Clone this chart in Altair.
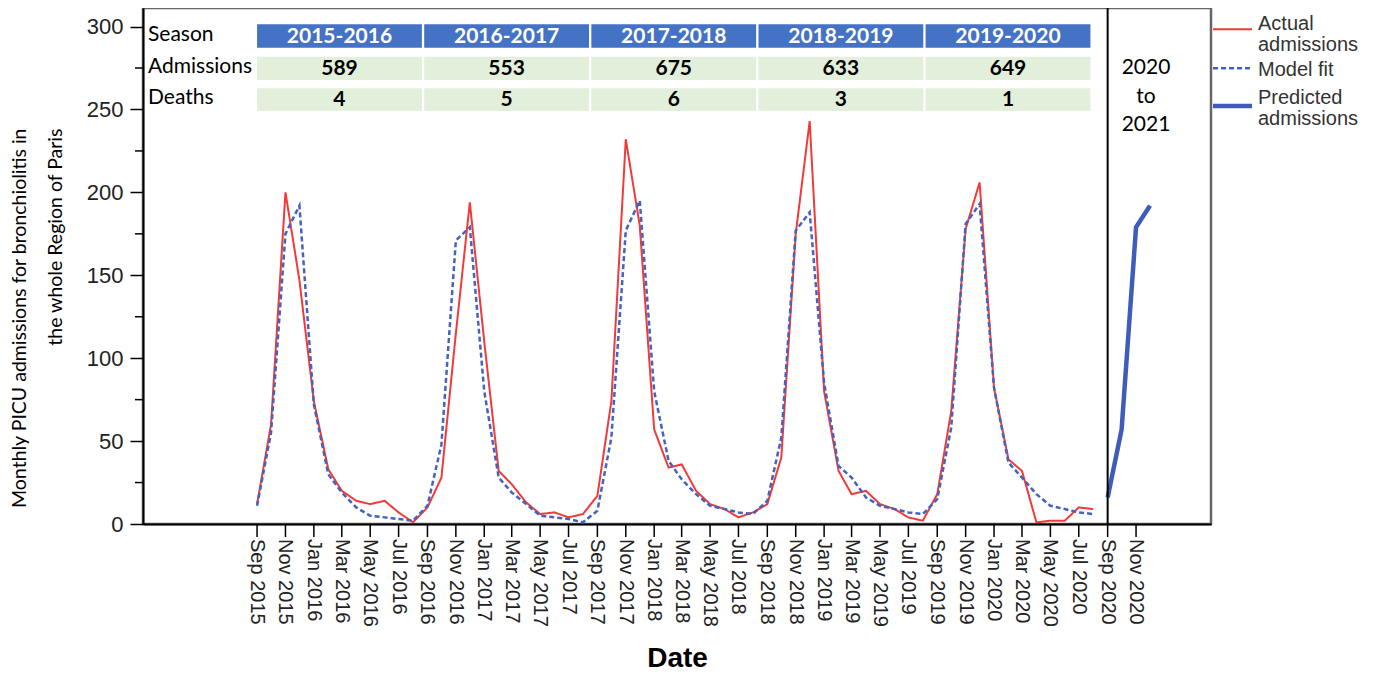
import altair as alt
import pandas as pd

# ---------------- data ----------------
months = [d.strftime("%Y-%m-%d") for d in pd.date_range("2015-09-01", periods=60, freq="MS")]
actual = [12, 60, 200, 147, 74, 33, 20, 14, 12, 14, 7, 1,
          10, 28, 115, 194, 110, 32, 24, 13, 6, 7, 4, 6,
          17, 74, 232, 180, 57, 34, 36, 20, 12, 9, 4, 7,
          12, 40, 175, 243, 80, 32, 18, 20, 12, 9, 4, 2,
          18, 68, 178, 206, 82, 39, 32, 1, 2, 2, 10, 9]
model_fit = [11, 55, 175, 192, 72, 30, 19, 10, 5, 4, 3, 2,
             11, 48, 171, 179, 80, 28, 19, 12, 5, 4, 3, 1,
             8, 52, 177, 195, 80, 38, 27, 18, 11, 9, 7, 6,
             14, 52, 177, 188, 85, 35, 28, 16, 11, 9, 7, 6,
             15, 58, 181, 193, 82, 37, 28, 18, 11, 9, 7, 6]
pred_months = ["2020-09-01", "2020-10-01", "2020-11-01", "2020-12-01"]
predicted = [16, 57, 179, 192]

seasons = ["2015-2016", "2016-2017", "2017-2018", "2018-2019", "2019-2020"]
season_admissions = [589, 553, 675, 633, 649]
season_deaths = [4, 5, 6, 3, 1]
row_labels = ["Season", "Admissions", "Deaths"]
side_note = ["2020", "to", "2021"]
divider_date = ["2020-09-01"]

tick_months = ["Sep 2015", "Nov 2015", "Jan 2016", "Mar 2016", "May 2016", "Jul 2016",
               "Sep 2016", "Nov 2016", "Jan 2017", "Mar 2017", "May 2017", "Jul 2017",
               "Sep 2017", "Nov 2017", "Jan 2018", "Mar 2018", "May 2018", "Jul 2018",
               "Sep 2018", "Nov 2018", "Jan 2019", "Mar 2019", "May 2019", "Jul 2019",
               "Sep 2019", "Nov 2019", "Jan 2020", "Mar 2020", "May 2020", "Jul 2020",
               "Sep 2020", "Nov 2020"]
y_major = [0, 50, 100, 150, 200, 250, 300]
y_minor = [25, 75, 125, 175, 225, 275]

SER = ["Actual admissions", "Model fit", "Predicted admissions"]
SER_LINES = [["Actual", "admissions"], ["Model fit"], ["Predicted", "admissions"]]
COLORS = ["#F23A3A", "#4462BE", "#3F5CBA"]
DASHES = [[1, 0], [5, 3], [1, 0]]
WIDTHS = [2, 2.5, 4.5]


def ms(s):
    return int(pd.Timestamp(s, tz="UTC").value // 1_000_000)


# ---------------- layout ----------------
W, H = 1068, 516
xscale = alt.Scale(type="utc", domain=[ms("2014-12-30"), ms("2021-04-11")])
yscale = alt.Scale(domain=[0, 311.2], nice=False, zero=True)

rows = []
for m, a, f in zip(months, actual, model_fit):
    rows.append({"date": m, "value": a, "series": SER[0]})
    rows.append({"date": m, "value": f, "series": SER[1]})
for m, p in zip(pred_months, predicted):
    rows.append({"date": m, "value": p, "series": SER[2]})
lines_df = pd.DataFrame(rows)

trows = []
start0 = pd.Timestamp("2015-09-01")
for k, (s, a, d) in enumerate(zip(seasons, season_admissions, season_deaths)):
    left = start0 + pd.Timedelta(days=359 * k)
    trows.append({
        "left": left.strftime("%Y-%m-%d"),
        "right": (left + pd.Timedelta(days=354)).strftime("%Y-%m-%d"),
        "mid": (left + pd.Timedelta(days=177)).strftime("%Y-%m-%d"),
        "season": s, "adm": str(a), "dth": str(d),
    })
table_df = pd.DataFrame(trows)

ticks_df = pd.DataFrame({
    "date": [pd.to_datetime(t, format="%b %Y").strftime("%Y-%m-%d") for t in tick_months],
    "label": tick_months,
})

xaxis = alt.Axis(
    labels=False, ticks=False, grid=False,
    domainColor="black", domainWidth=2,
    title="Date", titleFont="Liberation Sans", titleFontSize=28,
    titleFontWeight="bold", titleColor="black", titleY=142, titleBaseline="alphabetic",
)
yaxis = alt.Axis(
    values=y_major, tickSize=13, tickWidth=1.5, tickColor="black",
    domainColor="black", domainWidth=2, grid=False,
    labelFont="Liberation Sans", labelFontSize=22, labelColor="#222222", labelPadding=7,
    title=["Monthly PICU admissions for bronchiolitis in", "the whole  Region of Paris"],
    titleFont="Lato", titleFontSize=19.5, titleFontWeight="normal", titleColor="black",
    titleAngle=-90, titleAlign="right", titleBaseline="top",
    titleX=-133, titleY=120, titleLineHeight=36,
)

lines = alt.Chart(lines_df).mark_line().encode(
    x=alt.X("date:T", scale=xscale, axis=xaxis),
    y=alt.Y("value:Q", scale=yscale, axis=yaxis),
    color=alt.Color("series:N", scale=alt.Scale(domain=SER, range=COLORS), legend=None),
    strokeDash=alt.StrokeDash("series:N", scale=alt.Scale(domain=SER, range=DASHES), legend=None),
    strokeWidth=alt.StrokeWidth("series:N", scale=alt.Scale(type="ordinal", domain=SER, range=WIDTHS), legend=None),
)

# x ticks and rotated month labels, placed through the x scale
xt = alt.X("date:T", scale=xscale)
x_ticks = alt.Chart(ticks_df).mark_rule(color="black", strokeWidth=1.5).encode(
    x=xt, y=alt.value(H), y2=alt.value(H + 13))
x_labels = alt.Chart(ticks_df).mark_text(
    angle=90, align="left", baseline="middle", font="Liberation Sans", fontSize=20, color="#222222"
).encode(x=xt, y=alt.value(H + 15), text="label:N")

base_t = alt.Chart(table_df)
xl = alt.X("left:T", scale=xscale)
xm = alt.X("mid:T", scale=xscale)

hdr = base_t.mark_rect(color="#4472C4").encode(x=xl, x2="right:T", y=alt.value(16.3), y2=alt.value(39.7))
g1 = base_t.mark_rect(color="#E2EFDA").encode(x=xl, x2="right:T", y=alt.value(48.7), y2=alt.value(72))
g2 = base_t.mark_rect(color="#E2EFDA").encode(x=xl, x2="right:T", y=alt.value(80.3), y2=alt.value(103))

tfont = dict(font="Lato", fontSize=21, fontWeight="bold", baseline="middle", align="center")
t_season = base_t.mark_text(color="white", **tfont).encode(x=xm, y=alt.value(28.5), text="season:N")
t_adm = base_t.mark_text(color="black", **tfont).encode(x=xm, y=alt.value(60.5), text="adm:N")
t_dth = base_t.mark_text(color="black", **tfont).encode(x=xm, y=alt.value(92), text="dth:N")

one = alt.Chart(pd.DataFrame({"k": [0]}))
row_y = [27, 59, 90]
row_layers = [
    one.mark_text(text=lab, font="Lato", fontSize=21, color="black", align="left", baseline="middle")
    .encode(x=alt.value(5), y=alt.value(yy))
    for lab, yy in zip(row_labels, row_y)
]
note = one.mark_text(text=side_note, lineHeight=28.5, font="Lato", fontSize=21, color="black",
                     align="center", baseline="middle").encode(x=alt.value(1003), y=alt.value(60))

divider = alt.Chart(pd.DataFrame({"date": divider_date})).mark_rule(color="black", strokeWidth=2).encode(
    x=alt.X("date:T", scale=xscale), y=alt.value(0), y2=alt.value(H))

minor = alt.Chart(pd.DataFrame({"v": y_minor})).mark_rule(color="black", strokeWidth=1.5).encode(
    y=alt.Y("v:Q", scale=yscale), x=alt.value(-8), x2=alt.value(0))

# legend (guide) drawn at the right of the frame
leg_sym_y = [21.3, 60.3, 98]
leg_txt_y = [22, 68, 96]
legend_layers = []
for lines_txt, col, dash, wd, sy, ty in zip(SER_LINES, COLORS, DASHES, WIDTHS, leg_sym_y, leg_txt_y):
    legend_layers.append(
        one.mark_rule(color=col, strokeDash=dash, strokeWidth=wd).encode(
            x=alt.value(1070), x2=alt.value(1109), y=alt.value(sy))
    )
    legend_layers.append(
        one.mark_text(text=lines_txt, lineHeight=21, font="Liberation Sans", fontSize=20,
                      color="#333333", align="left", baseline="alphabetic").encode(
            x=alt.value(1115), y=alt.value(ty))
    )

chart = alt.layer(
    lines, x_ticks, x_labels, hdr, g1, g2, t_season, t_adm, t_dth, *row_layers, note,
    divider, minor, *legend_layers
).properties(
    width=W, height=H,
    autosize=alt.AutoSizeParams(type="none"),
    padding={"left": 135, "top": 0, "right": 160, "bottom": 148},
    background="white",
).configure_view(stroke="#666666", strokeWidth=2.5)

chart.save("out.html", embed_options={"renderer": "svg", "actions": False})
